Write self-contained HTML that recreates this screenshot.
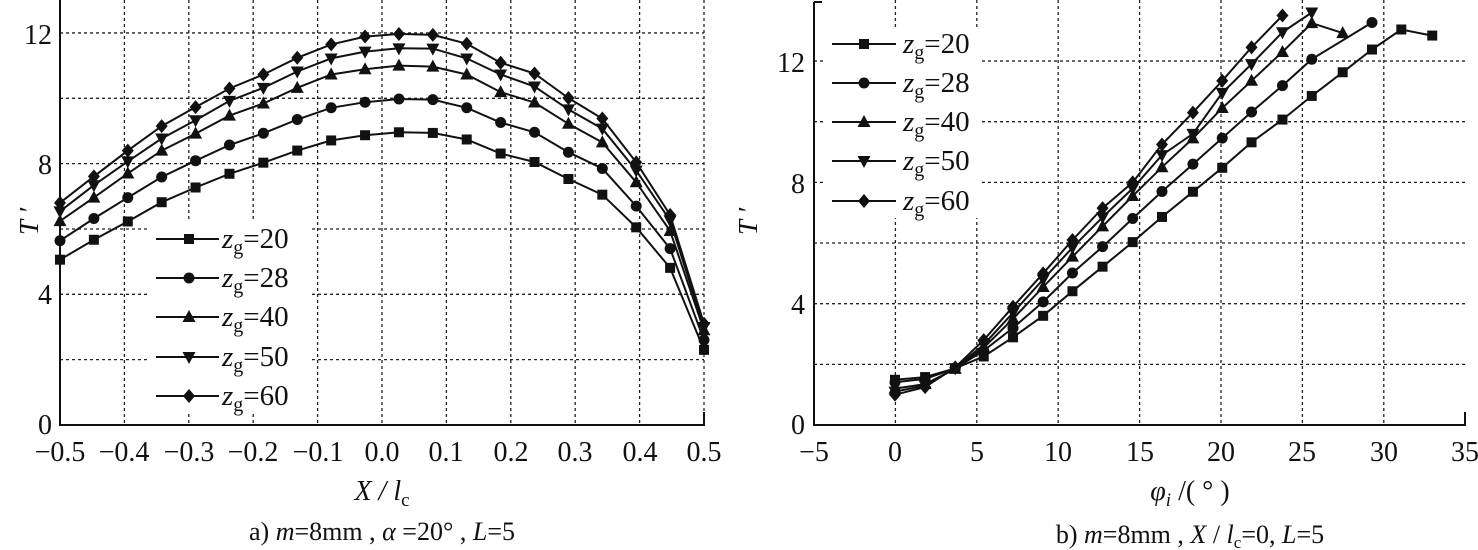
<!DOCTYPE html>
<html><head><meta charset="utf-8"><style>
html,body{margin:0;padding:0;background:#fff;}
svg{display:block;font-family:"Liberation Serif",serif;}
text{fill:#111;}
</style></head><body>
<svg id="s" width="1478" height="550" viewBox="0 0 1478 550" xmlns="http://www.w3.org/2000/svg">
<g id="grid" stroke="#222" stroke-width="1.3" stroke-dasharray="3,3" fill="none"></g>
<g id="data"></g>
<g stroke="#111" stroke-width="2" fill="none">
<path d="M60,0 V425 H704 V412"/>
<path d="M814,2 H822 M814,2 V425 H1465 V412"/>
</g>
<g font-size="28" text-anchor="end">
<text x="52" y="434">0</text><text x="52" y="304">4</text><text x="52" y="174">8</text><text x="52" y="44">12</text>
<text x="805" y="434">0</text><text x="805" y="314">4</text><text x="805" y="193">8</text><text x="805" y="72">12</text>
</g>
<g font-size="28" text-anchor="middle">
<text x="60" y="461">−0.5</text><text x="124" y="461">−0.4</text><text x="189" y="461">−0.3</text><text x="253" y="461">−0.2</text><text x="318" y="461">−0.1</text><text x="382" y="461">0.0</text><text x="446" y="461">0.1</text><text x="511" y="461">0.2</text><text x="575" y="461">0.3</text><text x="640" y="461">0.4</text><text x="704" y="461">0.5</text>
<text x="814" y="461">−5</text><text x="895" y="461">0</text><text x="977" y="461">5</text><text x="1058" y="461">10</text><text x="1140" y="461">15</text><text x="1221" y="461">20</text><text x="1302" y="461">25</text><text x="1384" y="461">30</text><text x="1465" y="461">35</text>
</g>
<text x="382" y="500" font-size="28" text-anchor="middle" font-style="italic">X / l<tspan font-size="19" font-style="normal" dy="6">c</tspan></text>
<text x="1190" y="500" font-size="28" text-anchor="middle" font-style="italic">φ<tspan font-size="19" dy="6">i</tspan><tspan dy="-6" font-style="normal"> /( ° )</tspan></text>
<text x="382" y="540" font-size="26" text-anchor="middle">a) <tspan font-style="italic">m</tspan>=8mm , <tspan font-style="italic">α</tspan> =20° , <tspan font-style="italic">L</tspan>=5</text>
<text x="1190" y="543" font-size="26" text-anchor="middle">b) <tspan font-style="italic">m</tspan>=8mm , <tspan font-style="italic">X</tspan> / <tspan font-style="italic">l</tspan><tspan font-size="17" dy="5">c</tspan><tspan dy="-5">=0, </tspan><tspan font-style="italic">L</tspan>=5</text>
<text x="0" y="0" font-size="27" font-style="italic" transform="translate(38,235) rotate(-90)">T ′</text>
<text x="0" y="0" font-size="27" font-style="italic" transform="translate(757,235) rotate(-90)">T ′</text>
<g id="leg" font-size="29"></g>
</svg>
<script>
var NS="http://www.w3.org/2000/svg";
function el(p,t,a){var e=document.createElementNS(NS,t);for(var k in a)e.setAttribute(k,a[k]);p.appendChild(e);return e;}
var G=document.getElementById('grid'),D=document.getElementById('data'),L=document.getElementById('leg');
for(var i=1;i<=10;i++){var x=60+64.4*i;el(G,'line',{x1:x,y1:0,x2:x,y2:425});}
for(var v=2;v<=12;v+=2){var y=425-32.67*v;el(G,'line',{x1:60,y1:y,x2:704,y2:y});}
for(var i=1;i<=7;i++){var x=814+81.4*i;el(G,'line',{x1:x,y1:0,x2:x,y2:425});}
for(var v=2;v<=12;v+=2){var y=425-30.33*v;el(G,'line',{x1:814,y1:y,x2:1465,y2:y});}
el(G,'rect',{x:150,y:222,width:160,height:190,fill:'#fff',stroke:'none'});
el(G,'rect',{x:826,y:28,width:156,height:190,fill:'#fff',stroke:'none'});
function mk(p,type,x,y){var s=5;
 if(type==0)el(p,'rect',{x:x-s,y:y-s,width:2*s,height:2*s,fill:'#111'});
 else if(type==1)el(p,'circle',{cx:x,cy:y,r:5.5,fill:'#111'});
 else if(type==2)el(p,'path',{d:'M'+x+','+(y-7)+' L'+(x+6.5)+','+(y+5)+' L'+(x-6.5)+','+(y+5)+'Z',fill:'#111'});
 else if(type==3)el(p,'path',{d:'M'+x+','+(y+7)+' L'+(x+6.5)+','+(y-5)+' L'+(x-6.5)+','+(y-5)+'Z',fill:'#111'});
 else el(p,'path',{d:'M'+x+','+(y-7)+' L'+(x+6)+','+y+' L'+x+','+(y+7)+' L'+(x-6)+','+y+'Z',fill:'#111'});}
function series(pts,type){var d='';pts.forEach(function(p,i){d+=(i?'L':'M')+p[0].toFixed(1)+','+p[1].toFixed(1);});
 el(D,'path',{d:d,fill:'none',stroke:'#111','stroke-width':2});pts.forEach(function(p){mk(D,type,p[0],p[1]);});}
var A=[[5.06,5.67,6.23,6.82,7.27,7.69,8.03,8.40,8.71,8.87,8.96,8.94,8.74,8.31,8.05,7.53,7.05,6.05,4.81,2.3],
[5.64,6.32,6.96,7.59,8.09,8.57,8.93,9.35,9.71,9.88,9.98,9.96,9.71,9.26,8.96,8.35,7.85,6.70,5.40,2.6],
[6.24,6.96,7.70,8.40,8.92,9.47,9.84,10.32,10.73,10.89,11.0,10.97,10.73,10.19,9.87,9.22,8.65,7.43,5.94,2.9],
[6.54,7.34,8.07,8.77,9.33,9.92,10.32,10.82,11.22,11.43,11.53,11.52,11.22,10.73,10.36,9.66,9.07,7.79,6.26,3.0],
[6.80,7.61,8.40,9.15,9.73,10.30,10.73,11.24,11.65,11.89,11.97,11.94,11.67,11.09,10.76,10.01,9.38,8.04,6.43,3.1]];
A.forEach(function(s,t){series(s.map(function(v,i){return[60+644*i/19,425-32.67*v];}),t);});
var xs=[0,1.85,3.7,5.45,7.25,9.1,10.9,12.75,14.6,16.4,18.3,20.1,21.9,23.8,25.6,27.5,29.3,31.1,33.0];
var B=[[1.49,1.58,1.87,2.26,2.89,3.60,4.41,5.22,6.03,6.86,7.69,8.48,9.32,10.07,10.85,11.63,12.38,13.04,12.84],
[1.41,1.52,1.87,2.45,3.20,4.06,5.01,5.88,6.81,7.70,8.60,9.46,10.32,11.19,12.06,null,13.27],
[1.2,1.35,1.85,2.55,3.5,4.55,5.55,6.55,7.55,8.5,9.45,10.45,11.35,12.3,13.25,12.92],
[1.1,1.3,1.87,2.65,3.7,4.8,5.85,6.85,7.8,8.9,9.6,10.95,11.9,12.95,13.6],
[1.0,1.25,1.9,2.8,3.9,5.0,6.1,7.15,8.0,9.25,10.3,11.35,12.45,13.5]];
B.forEach(function(s,t){var p=[];s.forEach(function(v,i){if(v!==null)p.push([895+16.28*xs[i],425-30.33*v]);});series(p,t);});
var lab=['20','28','40','50','60'];
function leg(x1,x2,xm,tx,ys){ys.forEach(function(y,t){el(L,'line',{x1:x1,y1:y,x2:x2,y2:y,stroke:'#111','stroke-width':2});mk(L,t,xm,y);
 var tt=el(L,'text',{x:tx,y:y+9});var a=document.createElementNS(NS,'tspan');a.setAttribute('font-style','italic');a.textContent='z';tt.appendChild(a);
 var b=document.createElementNS(NS,'tspan');b.setAttribute('font-size','20');b.setAttribute('dy','6');b.textContent='g';tt.appendChild(b);
 var c=document.createElementNS(NS,'tspan');c.setAttribute('dy','-6');c.textContent='='+lab[t];tt.appendChild(c);});}
leg(156,219,189,222,[239,278,317,357,396]);
leg(832,896,864,903,[44,83,122,161,201]);
</script>
</body></html>
